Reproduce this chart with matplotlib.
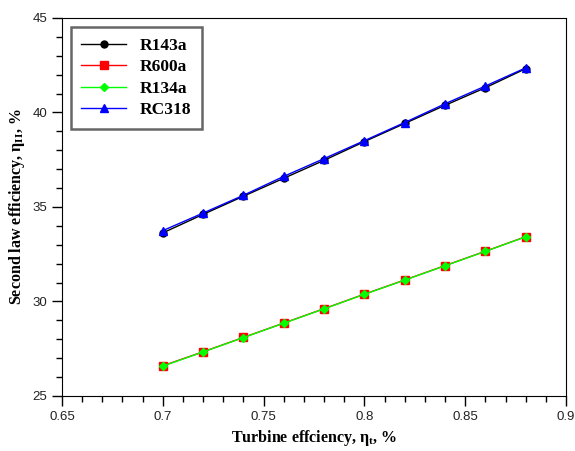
import numpy as np
import matplotlib
matplotlib.use("Agg")
import matplotlib.pyplot as plt
from matplotlib.ticker import MultipleLocator

# turbine efficiency and second law efficiency per working fluid
eta_t = [0.70, 0.72, 0.74, 0.76, 0.78, 0.80, 0.82, 0.84, 0.86, 0.88]
r143a = [33.63, 34.61, 35.57, 36.52, 37.47, 38.46, 39.42, 40.38, 41.31, 42.32]
r600a = [26.60, 27.34, 28.10, 28.86, 29.62, 30.39, 31.14, 31.90, 32.66, 33.43]
r134a = [26.58, 27.33, 28.09, 28.85, 29.61, 30.38, 31.13, 31.89, 32.65, 33.42]
rc318 = [33.75, 34.68, 35.62, 36.62, 37.56, 38.51, 39.47, 40.46, 41.40, 42.36]

series = [
    ("R143a", r143a, "black", "o", 5.0),
    ("R600a", r600a, "red", "s", 5.5),
    ("R134a", r134a, "#00ff00", "D", 4.0),
    ("RC318", rc318, "blue", "^", 5.5),
]

plt.rcParams["mathtext.fontset"] = "custom"
plt.rcParams["mathtext.bf"] = "Liberation Serif:bold"
plt.rcParams["mathtext.it"] = "Liberation Serif:italic:bold"
plt.rcParams["mathtext.rm"] = "Liberation Serif:bold"

fig = plt.figure(figsize=(5.75, 4.51), dpi=100)
ax = fig.add_axes([62 / 575, 1 - 396 / 451, 504 / 575, 378 / 451])

for name, vals, color, mk, ms in series:
    ax.plot(eta_t, vals, color=color, marker=mk, markersize=ms, lw=1.0, label=name)

ax.set_xlim(0.65, 0.9)
ax.set_ylim(25, 45)
ax.xaxis.set_minor_locator(MultipleLocator(0.01))
ax.yaxis.set_major_locator(MultipleLocator(5))
ax.yaxis.set_minor_locator(MultipleLocator(1))
ax.set_xticks([0.65, 0.7, 0.75, 0.8, 0.85, 0.9])
ax.set_xticklabels(["0.65", "0.7", "0.75", "0.8", "0.85", "0.9"])
ax.tick_params(which="major", direction="out", length=7, width=1, labelsize=9.5,
               labelcolor="#222222", top=False, right=False)
ax.tick_params(which="minor", direction="out", length=4, width=1,
               top=False, right=False)
for lab in ax.get_xticklabels() + ax.get_yticklabels():
    lab.set_fontfamily("Liberation Sans")

serif = {"family": "Liberation Serif", "weight": "bold", "size": 11.5}
ax.set_xlabel(r"Turbine effciency, $\mathbf{\eta_t}$, %", fontdict=serif, labelpad=4)
ax.set_ylabel(r"Second law efficiency, $\mathbf{\eta_{II}}$, %", fontdict=serif, labelpad=4)

leg = ax.legend(loc="upper left", bbox_to_anchor=(0.0, 0.998), fancybox=False,
                prop={"family": "Liberation Serif", "weight": "bold", "size": 12.5},
                handlelength=2.6, borderpad=0.6, labelspacing=0.3, framealpha=1)
leg.get_frame().set_edgecolor("#666666")
leg.get_frame().set_linewidth(1.8)

fig.savefig("out.png", dpi=100)
